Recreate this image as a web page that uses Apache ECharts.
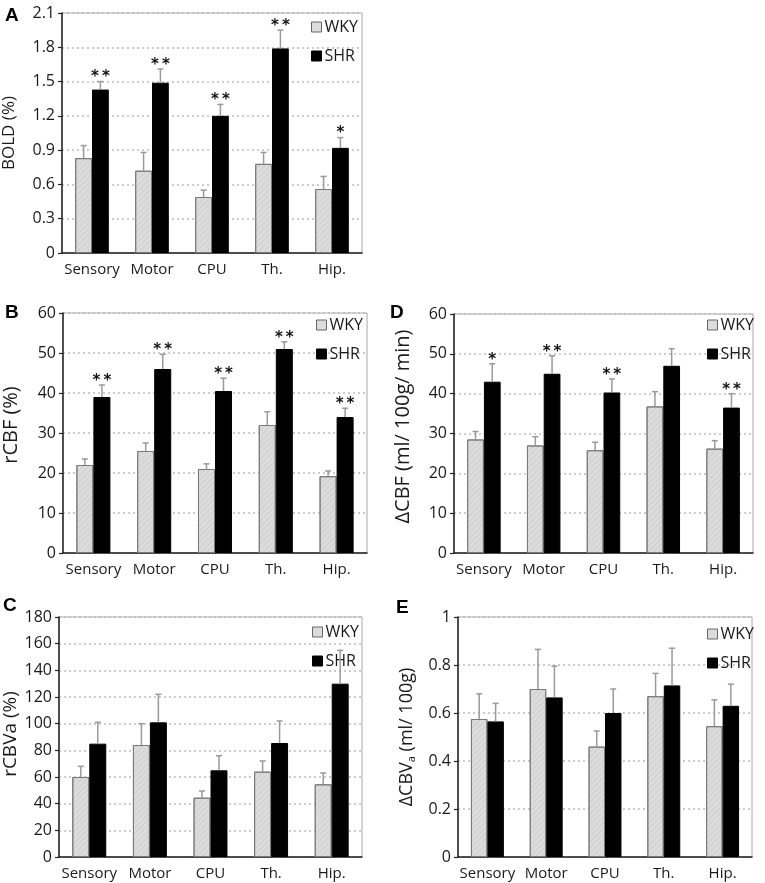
<!DOCTYPE html>
<html><head><meta charset="utf-8">
<script src="https://cdn.jsdelivr.net/npm/echarts@6/dist/echarts.min.js"></script>
<style>html,body{margin:0;padding:0;background:#fff}#c{width:765px;height:883px}</style>
</head><body><div id="c"></div>
<script>
const categories = ['Sensory','Motor','CPU','Th.','Hip.'];

// Panel A: BOLD (%)
const boldWKY = [0.83, 0.72, 0.49, 0.78, 0.56];
const boldWKYErr = [0.11, 0.16, 0.06, 0.10, 0.11];
const boldSHR = [1.43, 1.49, 1.20, 1.79, 0.92];
const boldSHRErr = [0.07, 0.12, 0.10, 0.16, 0.09];
const boldStars = ['**','**','**','**','*'];
const boldTicks = [0, 2.1, 0.3];

// Panel B: rCBF (%)
const rcbfWKY = [22, 25.5, 21, 32, 19.2];
const rcbfWKYErr = [1.5, 2, 1.3, 3.3, 1.3];
const rcbfSHR = [39, 46, 40.5, 51, 34];
const rcbfSHRErr = [3, 3.7, 3.2, 1.8, 2.2];
const rcbfStars = ['**','**','**','**','**'];
const rcbfTicks = [0, 60, 10];

// Panel C: rCBVa (%)
const rcbvWKY = [60, 84, 44.5, 64, 54.5];
const rcbvWKYErr = [8, 16, 5, 8, 8.5];
const rcbvSHR = [85, 101, 65, 85.5, 130];
const rcbvSHRErr = [16, 21, 11, 16.5, 25];
const rcbvStars = ['','','','',''];
const rcbvTicks = [0, 180, 20];

// Panel D: ΔCBF (ml/ 100g/ min)
const dcbfWKY = [28.5, 27, 25.8, 36.8, 26.2];
const dcbfWKYErr = [2, 2.2, 2, 3.7, 2];
const dcbfSHR = [43, 45, 40.3, 47, 36.5];
const dcbfSHRErr = [4.5, 4.5, 3.4, 4.3, 3.5];
const dcbfStars = ['*','**','**','','**'];
const dcbfTicks = [0, 60, 10];

// Panel E: ΔCBVa (ml/ 100g)
const dcbvWKY = [0.575, 0.70, 0.46, 0.67, 0.545];
const dcbvWKYErr = [0.105, 0.165, 0.065, 0.095, 0.11];
const dcbvSHR = [0.565, 0.665, 0.60, 0.715, 0.63];
const dcbvSHRErr = [0.075, 0.13, 0.10, 0.155, 0.09];
const dcbvStars = ['','','','',''];
const dcbvTicks = [0, 1, 0.2];

const FONT = 'Open Sans';
const TXT = '#1a1a1a';

const panels = [
  {letter:'A', grid:{left:62, top:13, width:300, height:240}, name:'BOLD (%)', nameGap:44, nameSize:17, namePad:0,
   wky:boldWKY, wkyErr:boldWKYErr, shr:boldSHR, shrErr:boldSHRErr, stars:boldStars, ticks:boldTicks, dec:1,
   letterPos:[5,6], legendPos:[311,19]},
  {letter:'B', grid:{left:62, top:313, width:305, height:240}, name:'rCBF (%)', nameGap:42, nameSize:20, namePad:16,
   wky:rcbfWKY, wkyErr:rcbfWKYErr, shr:rcbfSHR, shrErr:rcbfSHRErr, stars:rcbfStars, ticks:rcbfTicks, dec:0,
   letterPos:[5,303], legendPos:[316,317]},
  {letter:'C', grid:{left:58, top:617, width:304, height:240}, name:'rCBVa (%)', nameGap:39, nameSize:19, namePad:6,
   wky:rcbvWKY, wkyErr:rcbvWKYErr, shr:rcbvSHR, shrErr:rcbvSHRErr, stars:rcbvStars, ticks:rcbvTicks, dec:0,
   letterPos:[3,596], legendPos:[312,624]},
  {letter:'D', grid:{left:454, top:314, width:299, height:239}, name:'ΔCBF (ml/ 100g/ min)', nameGap:41, nameSize:20, namePad:14,
   wky:dcbfWKY, wkyErr:dcbfWKYErr, shr:dcbfSHR, shrErr:dcbfSHRErr, stars:dcbfStars, ticks:dcbfTicks, dec:0,
   letterPos:[390,303], legendPos:[707,317]},
  {letter:'E', grid:{left:458, top:617, width:294, height:240}, name:'ΔCBV{sub|a} (ml/ 100g)', nameGap:41, nameSize:18, namePad:0,
   wky:dcbvWKY, wkyErr:dcbvWKYErr, shr:dcbvSHR, shrErr:dcbvSHRErr, stars:dcbvStars, ticks:dcbvTicks, dec:1,
   letterPos:[396,598], legendPos:[707,626]}
];

const CAT_GAP = 0.44;
const HALF = (1 - CAT_GAP) / 4;

const wkyStyle = {
  color:'#dcdcdc', borderColor:'#7a7a7a', borderWidth:1,
  decal:{symbol:'rect', symbolSize:1, dashArrayX:[1,0], dashArrayY:[1,3], rotation:-Math.PI/4, color:'rgba(150,150,150,0.2)'}
};
const shrStyle = {color:'#000', borderColor:'#000', borderWidth:1};

function errSeries(gi, vals, errs, stars, sign) {
  return {
    type:'custom', name:'err', xAxisIndex:gi, yAxisIndex:gi, z:5, silent:true,
    data: vals.map((v,i)=>[i, v, errs[i]]),
    encode:{x:0, y:1},
    renderItem(params, api) {
      const i = api.value(0), v = api.value(1), e = api.value(2);
      const band = api.size([1,0])[0];
      const base = api.coord([i, v]);
      const top = api.coord([i, v + e]);
      const x = base[0] + sign * HALF * band;
      const st = {stroke:'#9a9a9a', lineWidth:1.5};
      const children = [
        {type:'line', shape:{x1:x, y1:base[1], x2:x, y2:top[1]}, style:st},
        {type:'line', shape:{x1:x-3, y1:top[1], x2:x+3, y2:top[1]}, style:st}
      ];
      const s = stars[params.dataIndex];
      if (s) children.push({type:'text', style:{text:s.split('').join('\u2009'), x:x, y:top[1]-4, align:'center', verticalAlign:'middle',
        font:'bold 15px "DejaVu Sans"', fill:'#111'}});
      return {type:'group', children};
    }
  };
}

const option = {
  animation:false,
  backgroundColor:'#fff',
  grid:[], xAxis:[], yAxis:[], series:[], legend:[], graphic:[]
};

panels.forEach((p, gi) => {
  option.grid.push(Object.assign({show:true, borderColor:'#a8a8a8', borderWidth:1, containLabel:false}, p.grid));
  option.xAxis.push({
    type:'category', gridIndex:gi, data:categories,
    axisLine:{lineStyle:{color:'#222', width:1.5}}, axisTick:{show:false},
    axisLabel:{interval:0, fontSize:15, fontFamily:FONT, color:TXT, margin:9}
  });
  option.yAxis.push({
    type:'value', gridIndex:gi, min:p.ticks[0], max:p.ticks[1], interval:p.ticks[2],
    name:p.name, nameLocation:'middle', nameGap:p.nameGap,
    nameTextStyle:{fontSize:p.nameSize, fontFamily:FONT, color:TXT, padding:[0,0,0,p.namePad],
      rich:{sub:{fontSize:11, fontFamily:FONT, color:TXT, verticalAlign:'bottom', padding:[9,0,0,0]}}},
    axisLine:{show:true, lineStyle:{color:'#222', width:1.5}},
    axisTick:{show:true, length:4, lineStyle:{color:'#222', width:1.2}},
    splitLine:{show:true, lineStyle:{color:'#bcbcbc', width:1.5, type:[2,3]}},
    axisLabel:{fontSize:16, fontFamily:FONT, color:TXT, margin:7,
      formatter:v => (Math.abs(v) < 1e-9 ? '0' : (p.dec ? (Math.abs(v-1)<1e-9 && p.ticks[1]===1 ? '1' : v.toFixed(p.dec)) : String(Math.round(v))))}
  });
  option.series.push({
    type:'bar', name:'WKY', xAxisIndex:gi, yAxisIndex:gi, data:p.wky,
    barGap:'0%', barCategoryGap:(CAT_GAP*100)+'%', itemStyle:wkyStyle, z:2
  });
  option.series.push({
    type:'bar', name:'SHR', xAxisIndex:gi, yAxisIndex:gi, data:p.shr,
    barGap:'0%', barCategoryGap:(CAT_GAP*100)+'%', itemStyle:shrStyle, z:2
  });
  option.series.push(errSeries(gi, p.wky, p.wkyErr, ['','','','',''], -1));
  option.series.push(errSeries(gi, p.shr, p.shrErr, p.stars, 1));
  option.legend.push({
    left:p.legendPos[0], top:p.legendPos[1], orient:'vertical', itemWidth:10, itemHeight:10, itemGap:13,
    selectedMode:false, padding:0,
    textStyle:{fontSize:16, fontFamily:FONT, color:TXT, padding:[0,0,0,-2]},
    data:[
      {name:'WKY', icon:'rect', itemStyle:{color:'#dcdcdc', borderColor:'#666', borderWidth:1, decal:'none'}},
      {name:'SHR', icon:'rect', itemStyle:{color:'#000', borderColor:'#000', borderWidth:1}}
    ]
  });
  option.graphic.push({
    type:'text', left:p.letterPos[0], top:p.letterPos[1],
    style:{text:p.letter, font:'bold 19px "Liberation Sans"', fill:'#000'}
  });
});

const chart = echarts.init(document.getElementById('c'), null, {renderer:'canvas'});
chart.setOption(option);
</script></body></html>
